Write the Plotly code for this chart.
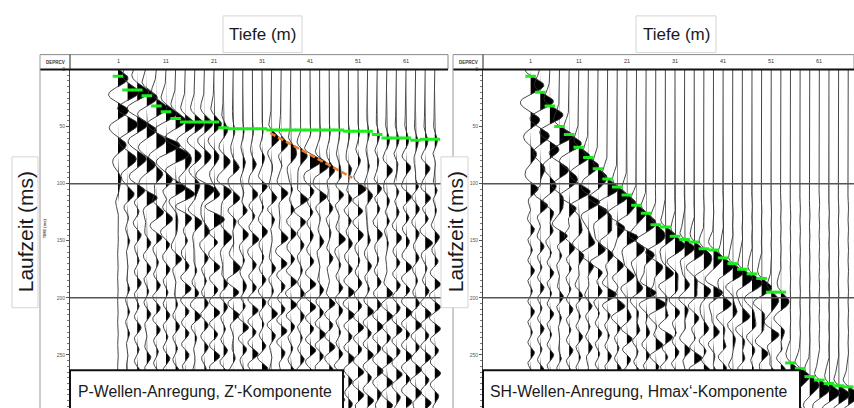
import numpy as np
import plotly.graph_objects as go

W, H = 854, 408

# ---------------- data ----------------
DEPTHS = [1, 3, 5, 7, 9, 11, 13, 15, 17, 19, 21, 23, 25, 27, 29, 31, 33,
          35, 37, 39, 41, 43, 45, 47, 49, 51, 53, 55, 57, 59, 61, 63, 65, 67]
DEPTH_TICKS = [1, 11, 21, 31, 41, 51, 61]
TIME_TICKS = [0, 50, 100, 150, 200, 250]
TIME_LINES = [100, 200]

# green first-break picks (ms)
P_PICK_MS = [6, 18, 18, 23, 32, 37, 43, 46, 46, 46, 46, 51, 52, 52, 52, 52, 53,
             53, 53, 53, 53, 53, 53, 53, 54, 54, 54, 57, 60, 60, 60, 62, 61, 61]
SH_PICK_MS = [6, 20, 32, 50, 57, 68, 77, 87, 96, 103, 110, 119, 126, 136, 138, 146, 149,
              151, 157, 158, 165, 170, 175, 179, 183, 195, 195, 257, 262, 269, 272, 275, 277, 278]

# orange dashed line (P panel)
ORANGE_D = [32.7, 49.8]
ORANGE_T = [55.6, 94.8]

# coherent events relative to the picks (offset ms) and their amplitudes (m)
P_OFFSETS = [2, 30, 60, 90]
P_AMP_A = [2.2, 2.5, 2.5, 2.3, 2.3, 2.3, 2.2, 2.1, 2.0, 1.8, 1.6, 0.9, 0.4, 0.3, 0.25, 0.25, 0.25,
           0.25, 0.25, 0.25, 0.25, 0.25, 0.25, 0.25, 0.3, 0.3, 0.4, 0.5, 0.6, 0.6, 0.6, 0.6, 0.6, 0.6]
P_AMP_B = [2.3, 2.3, 2.3, 2.1, 2.1, 2.1, 1.9, 1.8, 1.6, 1.4, 1.2, 1.0, 0.7, 0.5, 0.4, 0.3, 0.25,
           0.25, 0.25, 0.25, 0.25, 0.25, 0.25, 0.25, 0.25, 0.25, 0.3, 0.4, 0.4, 0.4, 0.4, 0.4, 0.4, 0.4]
P_AMP_C = [1.8, 1.9, 1.9, 1.8, 1.6, 1.6, 1.4, 1.2, 1.0, 0.9, 0.8, 0.7, 0.6, 0.5, 0.4, 0.3, 0.3,
           0.3, 0.3, 0.3, 0.3, 0.3, 0.3, 0.3, 0.3, 0.3, 0.3, 0.4, 0.4, 0.4, 0.4, 0.4, 0.4, 0.4]
P_AMP_D = [0.9, 1.0, 1.0, 1.0, 0.9, 0.9, 0.9, 0.8, 0.8, 0.7, 0.7, 0.6, 0.5, 0.4, 0.3, 0.3, 0.3,
           0.3, 0.3, 0.3, 0.3, 0.3, 0.3, 0.3, 0.3, 0.3, 0.3, 0.3, 0.3, 0.3, 0.3, 0.3, 0.3, 0.3]

SH_OFFSETS = [8, 38, 68, 100]
SH_AMP_A = [2.8, 2.8, 2.8, 2.8, 2.6, 2.3, 2.3, 2.3, 2.3, 2.3, 2.3, 2.3, 2.3, 2.3, 2.1, 2.1, 2.1,
            2.1, 2.1, 2.1, 2.1, 2.1, 2.1, 2.1, 2.1, 1.8, 1.8, 2.2, 2.2, 2.2, 2.2, 2.2, 2.2, 2.2]
SH_AMP_B = [2.0, 2.0, 2.0, 2.0, 1.9, 1.7, 1.7, 1.7, 1.7, 1.7, 1.7, 1.7, 1.7, 1.7, 1.2, 1.2, 1.2,
            1.2, 1.2, 1.2, 1.2, 1.2, 1.2, 1.2, 1.2, 0.9, 0.9, 0.9, 0.9, 0.9, 0.9, 0.9, 0.9, 0.9]
SH_AMP_C = [1.3, 1.3, 1.3, 1.3, 1.2, 1.0, 1.0, 1.0, 1.0, 1.0, 1.0, 1.0, 1.0, 1.0, 0.7, 0.7, 0.7,
            0.7, 0.7, 0.7, 0.7, 0.7, 0.7, 0.7, 0.7, 0.6, 0.6, 0.6, 0.6, 0.6, 0.6, 0.6, 0.6, 0.6]
SH_AMP_D = [0.8, 0.8, 0.8, 0.8, 0.8, 0.7, 0.7, 0.7, 0.7, 0.7, 0.7, 0.7, 0.7, 0.7, 0.5, 0.5, 0.5,
            0.5, 0.5, 0.5, 0.5, 0.5, 0.5, 0.5, 0.5, 0.5, 0.5, 0.5, 0.5, 0.5, 0.5, 0.5, 0.5, 0.5]

# single events of the P record
P_ORANGE_EV_D = [33, 35, 37, 39, 41, 43, 45, 47, 49, 51]
P_ORANGE_EV_T = [61, 66, 70, 75, 80, 84, 89, 94, 98, 103]
P_ORANGE_EV_A = [1.5, 1.6, 1.6, 1.5, 1.4, 1.3, 1.2, 1.1, 0.9, 0.6]
P_SLANT_D = [11, 13, 15, 17, 19, 21, 23, 25, 27]
P_SLANT_T = [65, 76, 87, 98, 111, 131, 151, 171, 191]
P_SLANT_A = [1.1, 1.1, 1.1, 1.1, 1.1, 1.1, 1.0, 0.9, 0.8]

# later ringing lobes: band times (ms), per-trace level (0..3) and per-trace time shift (ms)
P_RING_T = [82, 108, 127, 148, 170, 190, 210, 229, 248, 268, 288]
P_RING_LV = ["00000 00000 01201 10120 21012 10121 2021",
             "11232 32313 23202 32313 23132 32312 3232",
             "01202 21321 20232 12023 21212 30121 2120",
             "01223 21202 32123 20322 12032 21202 1232",
             "00121 23212 30212 12321 20212 12102 3212",
             "01212 10321 22302 21232 32023 21232 2123",
             "01122 21232 32323 23232 32323 23232 3233",
             "01202 12212 21032 12321 23212 32323 2323",
             "00121 21202 32123 20212 32323 23232 3232",
             "01202 12121 22312 32023 23232 32333 2323",
             "01121 20212 21232 12323 23232 33232 3332"]
P_RING_SHIFT = [0, 2, -3, 4, -1, 5, -4, 2, 6, -5, 3, -2, 5, -3, 1, -6, 4,
                0, -4, 6, -2, 3, -5, 1, 5, -3, 2, -4, 6, -1, 3, -5, 4, -2]

SH_RING_T = [104, 122, 140, 158, 176, 194, 212, 230, 248, 266, 284]
SH_RING_LV = ["22121 21212 12121 21212 12121 21212 1212",
              "12202 12121 21212 12121 21212 12121 2121",
              "21232 10121 22121 21212 12121 21212 1212",
              "12121 23212 10121 21212 21212 12121 2121",
              "21202 12321 21202 12121 21212 21212 1212",
              "12121 21232 12321 20212 12121 21212 2121",
              "21212 12123 21232 12101 21212 12121 2121",
              "12101 21212 32123 21212 10121 21212 1212",
              "21212 12121 21232 12321 21202 12121 2121",
              "12121 20212 12123 21232 12121 21212 1212",
              "21212 12121 21212 32123 21212 12121 2121"]
SH_RING_SHIFT = [0, -3, 2, 5, -2, 4, -5, 1, 3, -4, 6, -1, 2, -6, 4, 0, -3,
                 5, -2, 1, -5, 3, 6, -4, 0, 2, -3, 5, -1, 4, -6, 2, 0, -2]

LEVEL_AMP = [0.1, 0.45, 0.85, 1.25]

TITLE_TOP = "Tiefe (m)"
TITLE_SIDE = "Laufzeit (ms)"
CAPTION_P = "P-Wellen-Anregung, Z'-Komponente"
CAPTION_SH = "SH-Wellen-Anregung, Hmax\u2018-Komponente"

# ---------------- rendering ----------------
T = np.arange(0.0, 297.0, 0.5)
CLIP = 3.3


def ricker(tau_ms, f):
    a = (np.pi * f * tau_ms / 1000.0) ** 2
    return (1.0 - 2.0 * a) * np.exp(-a)


def build(picks, offsets, amps, ring_t, ring_lv, ring_shift, extras):
    levels = [(s.replace(" ", "") + "0" * 40)[:len(DEPTHS)] for s in ring_lv]
    out = []
    for i, d in enumerate(DEPTHS):
        s = np.zeros_like(T)
        for off, amp in zip(offsets, amps):
            s += amp[i] * ricker(T - (picks[i] + off), 26)
        for bt, lv in zip(ring_t, levels):
            tb = bt + ring_shift[i]
            a = LEVEL_AMP[int(lv[i])] if tb > picks[i] + 15 else 0.1
            s += a * ricker(T - tb, 40)
        for ed, et, ea in extras:
            for dd, tt, aa in zip(ed, et, ea):
                if dd == d:
                    s += aa * ricker(T - tt, 30)
        out.append(np.clip(s, -CLIP, CLIP))
    return out


def wiggle_xy(sigs):
    lx, ly, fx, fy = [], [], [], []
    for d, s in zip(DEPTHS, sigs):
        lx += list(d + s) + [None]
        ly += list(T) + [None]
        pos = np.maximum(s, 0.0)
        fx += list(d + pos) + [d, d, None]
        fy += list(T) + [T[-1], T[0], None]
    return lx, ly, fx, fy


p_sig = build(P_PICK_MS, P_OFFSETS, [P_AMP_A, P_AMP_B, P_AMP_C, P_AMP_D],
              P_RING_T, P_RING_LV, P_RING_SHIFT,
              [(P_ORANGE_EV_D, P_ORANGE_EV_T, P_ORANGE_EV_A),
               (P_SLANT_D, P_SLANT_T, P_SLANT_A)])
sh_sig = build(SH_PICK_MS, SH_OFFSETS, [SH_AMP_A, SH_AMP_B, SH_AMP_C, SH_AMP_D],
               SH_RING_T, SH_RING_LV, SH_RING_SHIFT, [])

fig = go.Figure()
GREEN = "#1aee1a"
LINE_C = "#333333"

for sig, xa, ya, picks in [(p_sig, "x", "y", P_PICK_MS), (sh_sig, "x2", "y2", SH_PICK_MS)]:
    lx, ly, fx, fy = wiggle_xy(sig)
    fig.add_trace(go.Scatter(x=fx, y=fy, mode="lines", fill="toself", fillcolor="black",
                             line=dict(width=0, color="black"), xaxis=xa, yaxis=ya,
                             hoverinfo="skip", showlegend=False))
    fig.add_trace(go.Scatter(x=lx, y=ly, mode="lines", line=dict(width=0.9, color=LINE_C),
                             xaxis=xa, yaxis=ya, hoverinfo="skip", showlegend=False))
    gx, gy = [], []
    for d, tp in zip(DEPTHS, picks):
        gx += [d - 1.1, d + 1.1, None]
        gy += [tp, tp, None]
    fig.add_trace(go.Scatter(x=gx, y=gy, mode="lines", line=dict(width=3, color=GREEN),
                             xaxis=xa, yaxis=ya, hoverinfo="skip", showlegend=False))

fig.add_trace(go.Scatter(x=ORANGE_D, y=ORANGE_T, mode="lines",
                         line=dict(width=2.5, color="#f07a2a", dash="6px,3px"),
                         xaxis="x", yaxis="y", hoverinfo="skip", showlegend=False))


def px(x):
    return x / W


def py(y):
    return 1 - y / H


YDOM = [0, 1 - 67 / H]
yax = dict(domain=YDOM, range=[296.5, 0], autorange=False, tickmode="linear", tick0=0, dtick=50,
           ticks="outside", ticklen=3, tickcolor="#555", tickwidth=1,
           tickfont=dict(size=5, color="#555", family="Liberation Sans"),
           showline=True, linecolor="#444", linewidth=1, showgrid=False, zeroline=False,
           minor=dict(ticks="outside", ticklen=2, dtick=5, tickcolor="#777", showgrid=False),
           fixedrange=True)

fig.update_layout(
    width=W, height=H, margin=dict(l=0, r=0, t=0, b=0),
    paper_bgcolor="white", plot_bgcolor="white", showlegend=False,
    xaxis=dict(domain=[px(70), px(448)], range=[-9.0, 69.75], visible=False, fixedrange=True,
               anchor="y"),
    xaxis2=dict(domain=[px(483), 1.0], range=[-8.9, 68.2], visible=False, fixedrange=True,
                anchor="y2"),
    yaxis=dict(anchor="x", **yax),
    yaxis2=dict(anchor="x2", **yax),
)

shapes = []


def seg(x0, y0, x1, y1, color="#000", w=1):
    shapes.append(dict(type="line", xref="paper", yref="paper", x0=px(x0), y0=py(y0),
                       x1=px(x1), y1=py(y1), line=dict(color=color, width=w)))


def box(x0, y0, x1, y1, color="#ccc", w=1, fill="white"):
    shapes.append(dict(type="rect", xref="paper", yref="paper", x0=px(x0), y0=py(y0),
                       x1=px(x1), y1=py(y1), line=dict(color=color, width=w), fillcolor=fill))


# time lines
for xa, ya in [("x", "y"), ("x2", "y2")]:
    for tl in TIME_LINES:
        shapes.append(dict(type="line", xref=xa + " domain", yref=ya, x0=0, x1=1, y0=tl, y1=tl,
                           line=dict(color="#555", width=1.5)))

# headers / frames
for left, axis_x, right in [(40, 70, 448), (453, 483, 854)]:
    seg(left, 52, right, 52, "#888", 1)
    seg(right, 52, right, 67, "#888", 1)
    seg(left, 67, right, 67, "#111", 2)
    seg(axis_x, 52, axis_x, 67, "#222", 1)
    seg(left, 52, left, 408, "#999", 1)

# title boxes
box(223, 13, 302, 50, "#d4d4d4", 1)
box(636, 13, 716, 50, "#d4d4d4", 1)
box(12, 155, 38, 307, "#d4d4d4", 1)
box(441, 155, 468, 307, "#d4d4d4", 1)
# caption boxes
box(70, 370, 343, 412, "#111", 2)
box(483, 370, 800, 412, "#111", 2)

fig.update_layout(shapes=shapes)

ann = []
SANS = "Liberation Sans, Arial, sans-serif"


def text(x, y, s, size, family=SANS, color="#1a1a1a", angle=0, xanchor="center"):
    ann.append(dict(x=px(x), y=py(y), xref="paper", yref="paper", text=s, showarrow=False,
                    font=dict(size=size, family=family, color=color), textangle=angle,
                    xanchor=xanchor, yanchor="middle"))


text(262.5, 31.5, TITLE_TOP, 17)
text(676, 31.5, TITLE_TOP, 17)
text(25, 231, TITLE_SIDE, 21, angle=-90)
text(455, 231, TITLE_SIDE, 21, angle=-90)
text(76, 391, CAPTION_P, 15.8, xanchor="left")
text(488, 391, CAPTION_SH, 15.8, xanchor="left")
text(55, 59.5, "<b>DEPRCV</b>", 4.5, color="#333")
text(468, 59.5, "<b>DEPRCV</b>", 4.5, color="#333")
text(44, 227, "<b>TIME (ms)</b>", 4, color="#444", angle=-90)

for xa in ["x", "x2"]:
    for v in DEPTH_TICKS:
        ann.append(dict(x=v, y=py(58.5), xref=xa, yref="paper", text=str(v), showarrow=False,
                        font=dict(size=5.5, family=SANS, color="#333"),
                        xanchor="center", yanchor="middle"))

fig.update_layout(annotations=ann)

fig.write_html("out.html")
